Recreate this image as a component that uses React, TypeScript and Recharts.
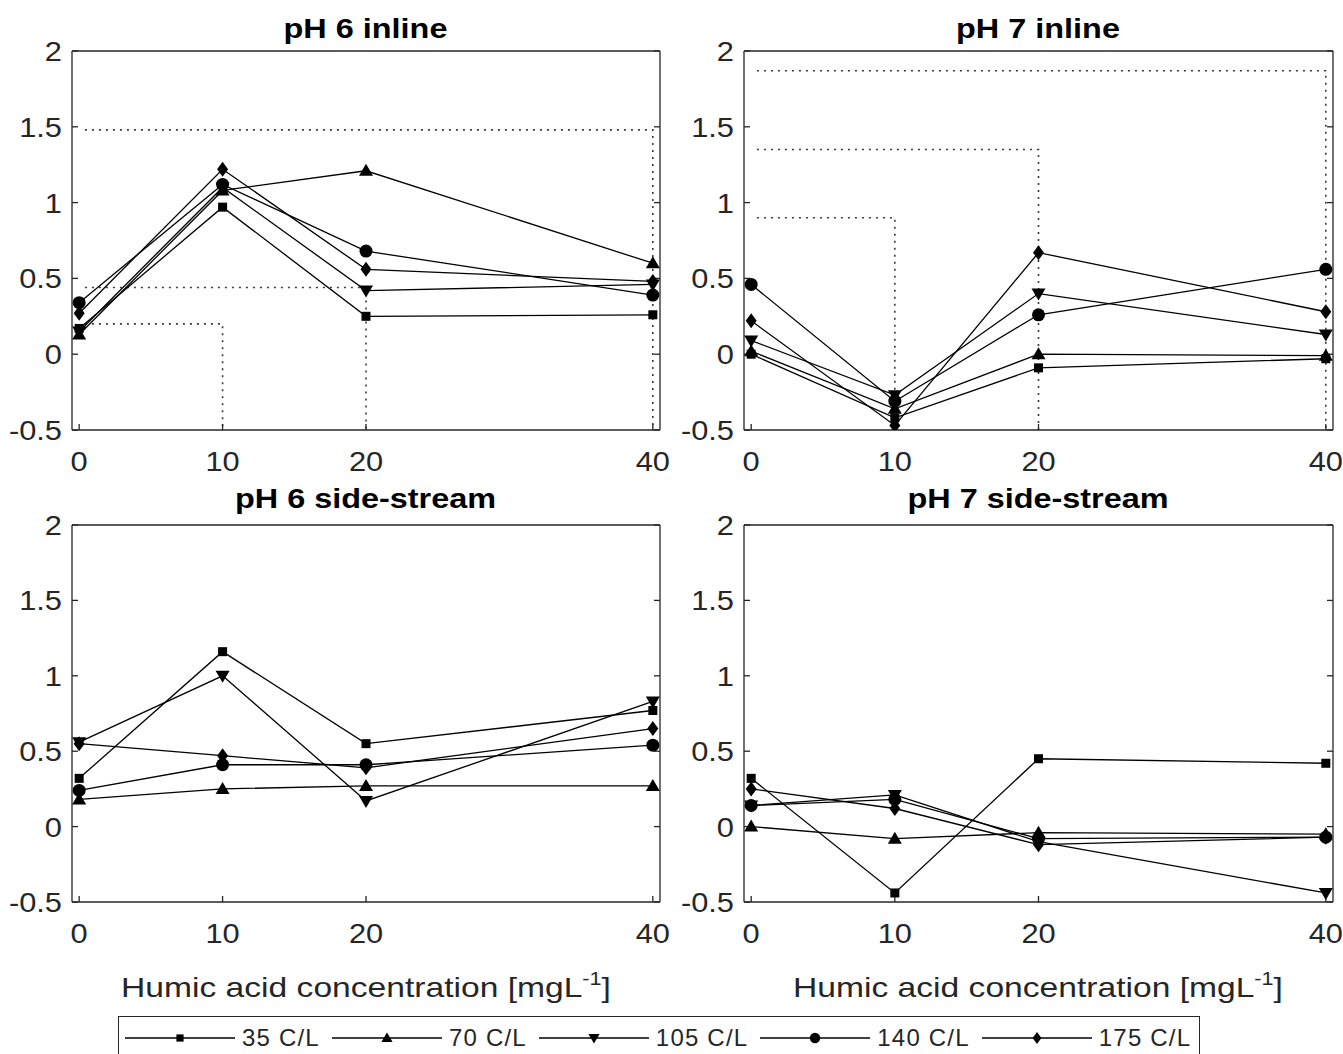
import React from "react"
import { LineChart, Line, XAxis, YAxis } from "recharts"

const concentrations = [0, 10, 20, 40]
const xTicks = [0, 10, 20, 40]
const yTicks = [-0.5, 0, 0.5, 1, 1.5, 2]
const seriesNames = ["35 C/L", "70 C/L", "105 C/L", "140 C/L", "175 C/L"]
const markerShapes = ["square", "triangle", "down", "circle", "diamond"]

// pH 6 inline
const ph6Inline35 = [0.17, 0.97, 0.25, 0.26]
const ph6Inline70 = [0.13, 1.08, 1.21, 0.6]
const ph6Inline105 = [0.15, 1.1, 0.42, 0.46]
const ph6Inline140 = [0.34, 1.12, 0.68, 0.39]
const ph6Inline175 = [0.27, 1.22, 0.56, 0.48]

// pH 7 inline
const ph7Inline35 = [0.0, -0.42, -0.09, -0.03]
const ph7Inline70 = [0.02, -0.36, 0.0, -0.01]
const ph7Inline105 = [0.09, -0.27, 0.4, 0.13]
const ph7Inline140 = [0.46, -0.31, 0.26, 0.56]
const ph7Inline175 = [0.22, -0.47, 0.67, 0.28]

// pH 6 side-stream
const ph6Side35 = [0.32, 1.16, 0.55, 0.77]
const ph6Side70 = [0.18, 0.25, 0.27, 0.27]
const ph6Side105 = [0.56, 1.0, 0.17, 0.83]
const ph6Side140 = [0.24, 0.41, 0.41, 0.54]
const ph6Side175 = [0.55, 0.47, 0.39, 0.65]

// pH 7 side-stream
const ph7Side35 = [0.32, -0.44, 0.45, 0.42]
const ph7Side70 = [0.0, -0.08, -0.04, -0.05]
const ph7Side105 = [0.14, 0.21, -0.1, -0.44]
const ph7Side140 = [0.14, 0.18, -0.08, -0.07]
const ph7Side175 = [0.25, 0.12, -0.12, -0.07]

// dotted brackets: [level, end concentration]
const bracketStart = 0.4
const ph6InlineBrackets = [
  [1.48, 40],
  [0.44, 20],
  [0.2, 10],
]
const ph7InlineBrackets = [
  [1.87, 40],
  [1.35, 20],
  [0.9, 10],
]

const FONT = '"Liberation Sans", Arial, Helvetica, sans-serif'
const INK = "#262626"

function Marker({ shape, cx, cy, k = 1 }: { shape: string; cx?: number; cy?: number; k?: number }) {
  if (cx == null || cy == null) return null
  if (shape === "square") {
    const s = 4.5 * k
    return <rect x={cx - s} y={cy - s} width={2 * s} height={2 * s} fill="#000" />
  }
  if (shape === "triangle") {
    return (
      <polygon
        points={`${cx},${cy - 7 * k} ${cx - 7 * k},${cy + 5 * k} ${cx + 7 * k},${cy + 5 * k}`}
        fill="#000"
      />
    )
  }
  if (shape === "down") {
    return (
      <polygon
        points={`${cx},${cy + 7 * k} ${cx - 7 * k},${cy - 5 * k} ${cx + 7 * k},${cy - 5 * k}`}
        fill="#000"
      />
    )
  }
  if (shape === "circle") return <circle cx={cx} cy={cy} r={6.5 * k} fill="#000" />
  return (
    <polygon
      points={`${cx},${cy - 7.5 * k} ${cx + 5.5 * k},${cy} ${cx},${cy + 7.5 * k} ${cx - 5.5 * k},${cy}`}
      fill="#000"
    />
  )
}

const YTick = (props: any) => {
  const { x, y, payload } = props
  return (
    <text
      transform={`translate(${x},${y}) scale(1.1,1)`}
      dy="0.36em"
      textAnchor="end"
      fontSize={28}
      fontFamily={FONT}
      fill={INK}
    >
      {String(payload.value)}
    </text>
  )
}

const XTick = (props: any) => {
  const { x, y, payload } = props
  return (
    <text
      transform={`translate(${x},${y}) scale(1.1,1)`}
      dy="0.36em"
      textAnchor="middle"
      fontSize={28}
      fontFamily={FONT}
      fill={INK}
    >
      {String(payload.value)}
    </text>
  )
}

const NoTick = () => <g />

type PanelProps = {
  title: string
  series: number[][]
  brackets?: number[][]
  left: number
  top: number
  width: number
  height: number
  marginRight: number
}

function Panel({ title, series, brackets = [], left, top, width, height, marginRight }: PanelProps) {
  const lines = series.map((vals) => concentrations.map((x, i) => ({ x, y: vals[i] })))
  const dotted = brackets.map(([level, end]) => [
    { x: bracketStart, y: level },
    { x: end, y: level },
    { x: end, y: -0.5 },
  ])
  const plotWidth = width - 72 - marginRight
  const axisStyle = { stroke: INK, strokeWidth: 1.3 }

  return (
    <div style={{ position: "absolute", left, top, width, height }}>
      <LineChart width={width} height={height} margin={{ top: 51, right: marginRight - 1, bottom: 0, left: 0 }}>
        <XAxis
          dataKey="x"
          type="number"
          domain={[-0.5, 40.5]}
          ticks={xTicks}
          allowDataOverflow
          height={50}
          tickSize={-6}
          tickMargin={37}
          tick={<XTick />}
          axisLine={axisStyle}
          tickLine={axisStyle}
        />
        <XAxis
          xAxisId="top"
          orientation="top"
          type="number"
          domain={[-0.5, 40.5]}
          ticks={xTicks}
          allowDataOverflow
          height={1}
          mirror
          tickSize={6}
          tick={<NoTick />}
          axisLine={axisStyle}
          tickLine={axisStyle}
        />
        <YAxis
          type="number"
          domain={[-0.5, 2]}
          ticks={yTicks}
          allowDataOverflow
          width={72}
          tickSize={-6}
          tickMargin={16}
          tick={<YTick />}
          axisLine={axisStyle}
          tickLine={axisStyle}
        />
        <YAxis
          yAxisId="right"
          orientation="right"
          type="number"
          domain={[-0.5, 2]}
          ticks={yTicks}
          allowDataOverflow
          width={1}
          mirror
          tickSize={6}
          tick={<NoTick />}
          axisLine={axisStyle}
          tickLine={axisStyle}
        />
        {dotted.map((d, i) => (
          <Line
            key={`b${i}`}
            data={d}
            dataKey="y"
            type="linear"
            stroke="#3a3a3a"
            strokeWidth={1.6}
            strokeDasharray="2 5"
            dot={false}
            activeDot={false}
            isAnimationActive={false}
          />
        ))}
        {lines.map((d, i) => (
          <Line
            key={seriesNames[i]}
            name={seriesNames[i]}
            data={d}
            dataKey="y"
            type="linear"
            stroke="#000"
            strokeWidth={1.3}
            activeDot={false}
            isAnimationActive={false}
            dot={(p: any) => <Marker key={`${i}-${p.index}`} shape={markerShapes[i]} cx={p.cx} cy={p.cy} />}
          />
        ))}
      </LineChart>
      <div
        style={{
          position: "absolute",
          left: 72,
          top: top === 0 ? 12 : 8,
          width: plotWidth,
          textAlign: "center",
          fontFamily: FONT,
          fontWeight: "bold",
          fontSize: 27,
          lineHeight: "34px",
          color: "#000",
          transform: "scaleX(1.2)",
        }}
      >
        {title}
      </div>
    </div>
  )
}

function AxisTitle({ center }: { center: number }) {
  return (
    <div
      style={{
        position: "absolute",
        left: center - 300,
        top: 968,
        width: 600,
        textAlign: "center",
        fontFamily: FONT,
        fontSize: 28,
        lineHeight: "40px",
        color: INK,
        transform: "scaleX(1.2)",
        whiteSpace: "nowrap",
      }}
    >
      Humic acid concentration [mgL<sup style={{ fontSize: 18, verticalAlign: "12px", lineHeight: 0 }}>-1</sup>]
    </div>
  )
}

function Legend() {
  return (
    <div
      style={{
        position: "absolute",
        left: 118,
        top: 1016,
        width: 1082,
        height: 60,
        border: `1.5px solid ${INK}`,
        boxSizing: "border-box",
        display: "flex",
        alignItems: "flex-start",
        paddingLeft: 6,
        paddingTop: 4,
        fontFamily: FONT,
        fontSize: 24,
        letterSpacing: 1.2,
        color: INK,
        whiteSpace: "nowrap",
      }}
    >
      {seriesNames.map((name, i) => (
        <div key={name} style={{ display: "flex", alignItems: "center", height: 34, marginRight: 12 }}>
          <svg width={110} height={24}>
            <line x1={0} y1={12} x2={110} y2={12} stroke="#000" strokeWidth={1.3} />
            <Marker shape={markerShapes[i]} cx={55} cy={12} k={0.8} />
          </svg>
          <span style={{ marginLeft: 7 }}>{name}</span>
        </div>
      ))}
    </div>
  )
}

export default function App() {
  return (
    <div
      style={{
        position: "absolute",
        left: 0,
        top: 0,
        width: 1343,
        height: 1054,
        overflow: "hidden",
        background: "#fff",
      }}
    >
      <Panel
        title="pH 6 inline"
        series={[ph6Inline35, ph6Inline70, ph6Inline105, ph6Inline140, ph6Inline175]}
        brackets={ph6InlineBrackets}
        left={0}
        top={0}
        width={672}
        height={480}
        marginRight={13}
      />
      <Panel
        title="pH 7 inline"
        series={[ph7Inline35, ph7Inline70, ph7Inline105, ph7Inline140, ph7Inline175]}
        brackets={ph7InlineBrackets}
        left={672}
        top={0}
        width={671}
        height={480}
        marginRight={11}
      />
      <Panel
        title="pH 6 side-stream"
        series={[ph6Side35, ph6Side70, ph6Side105, ph6Side140, ph6Side175]}
        left={0}
        top={474}
        width={672}
        height={478}
        marginRight={13}
      />
      <Panel
        title="pH 7 side-stream"
        series={[ph7Side35, ph7Side70, ph7Side105, ph7Side140, ph7Side175]}
        left={672}
        top={474}
        width={671}
        height={478}
        marginRight={11}
      />
      <AxisTitle center={366} />
      <AxisTitle center={1038} />
      <Legend />
    </div>
  )
}
